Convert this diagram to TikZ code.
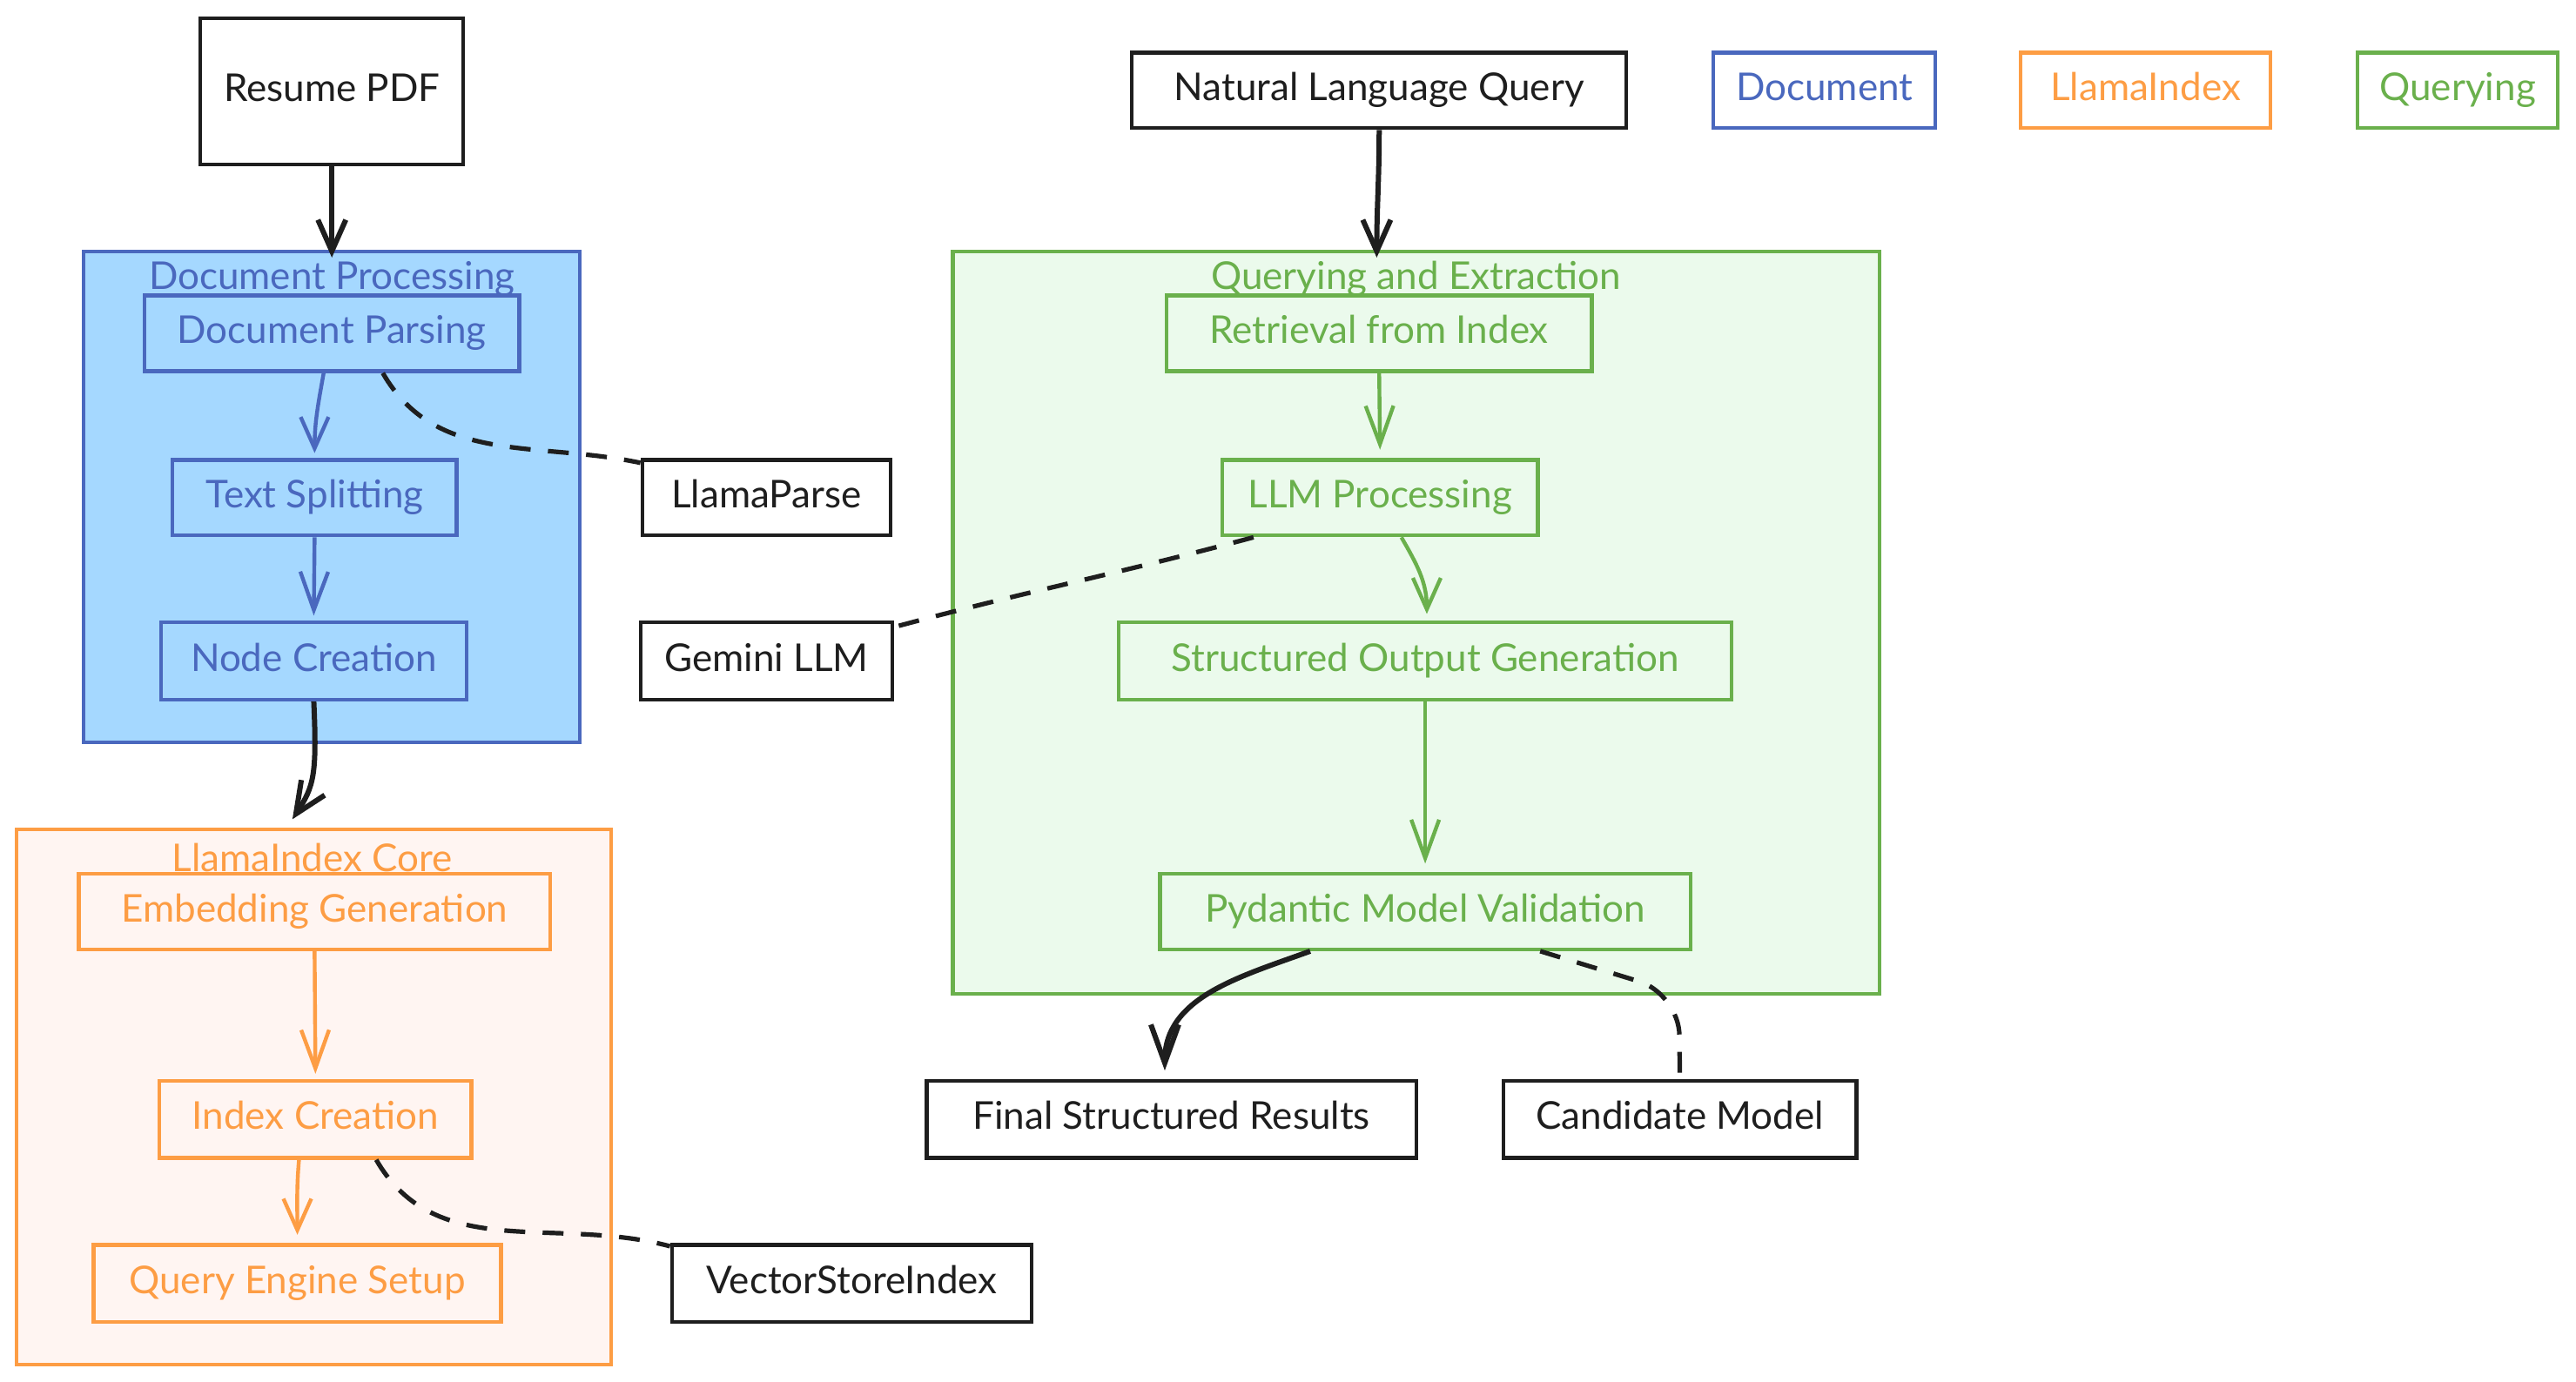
\documentclass[tikz,border=0pt]{standalone}
\usepackage{fontspec}
\setmainfont{Lato}
\usetikzlibrary{arrows.meta,fit,calc}
\definecolor{docb}{RGB}{74,104,190}
\definecolor{docf}{RGB}{165,216,255}
\definecolor{llo}{RGB}{253,157,68}
\definecolor{llf}{RGB}{255,245,242}
\definecolor{qg}{RGB}{106,176,76}
\definecolor{qf}{RGB}{235,250,236}
\definecolor{ink}{RGB}{30,30,30}
\begin{document}
\begin{tikzpicture}[x=0.4718pt,y=-0.4718pt,
  font=\fontsize{11}{13}\selectfont,
  box/.style={draw, line width=1.1pt, inner sep=0pt},
  lbl/.style={inner sep=0pt, text height=1.6ex, text depth=0.45ex},
  blackbox/.style={box, draw=ink, fill=white, label={[lbl, text=ink]center:#1}},
  docbox/.style={box, draw=docb, label={[lbl, text=docb]center:#1}},
  llbox/.style={box, draw=llo, label={[lbl, text=llo]center:#1}},
  qbox/.style={box, draw=qg, label={[lbl, text=qg]center:#1}},
  docgroup/.style={box, draw=docb, fill=docf},
  llgroup/.style={box, draw=llo, fill=llf},
  qgroup/.style={box, draw=qg, fill=qf},
  gtitle/.style={inner sep=0pt},
  flow/.style={line width=1.1pt, -{Straight Barb[length=9pt,width=8pt]}},
  blackflow/.style={flow, draw=ink, line width=1.5pt},
  link/.style={draw=ink, line width=1.3pt, dash pattern=on 6pt off 5pt}
]
\useasboundingbox (0,0) rectangle (1568,841);

% groups
\node[docgroup, fit={(51,153)(353,452)}] (docproc) {};
\node[llgroup, fit={(10,505)(372,831)}] (core) {};
\node[qgroup, fit={(580,153)(1144,605)}] (qx) {};
\node[gtitle, text=docb] (tdoc) at (202,170) {Document Processing};
\node[gtitle, text=llo] (tcore) at (190,522) {LlamaIndex Core};
\node[gtitle, text=qg] (tqx) at (862,170) {Querying and Extraction};

% document nodes
\node[blackbox=Resume PDF, fit={(122,11)(282,100)}] (resume) {};
\node[docbox=Document Parsing, fit={(88,180)(316,226)}] (parse) {};
\node[docbox=Text Splitting, fit={(105,280)(278,326)}] (split) {};
\node[docbox=Node Creation, fit={(98,379)(284,426)}] (nodec) {};
\node[blackbox=LlamaParse, fit={(391,280)(542,326)}] (lparse) {};
\node[blackbox=Gemini LLM, fit={(390,379)(543,426)}] (gemini) {};

% llamaindex nodes
\node[llbox=Embedding Generation, fit={(48,532)(335,578)}] (embed) {};
\node[llbox=Index Creation, fit={(97,658)(287,705)}] (idx) {};
\node[llbox=Query Engine Setup, fit={(57,758)(305,805)}] (qes) {};
\node[blackbox=VectorStoreIndex, fit={(409,758)(628,805)}] (vsi) {};

% querying nodes
\node[blackbox=Natural Language Query, fit={(689,32)(990,78)}] (nlq) {};
\node[qbox=Retrieval from Index, fit={(710,180)(969,226)}] (retr) {};
\node[qbox=LLM Processing, fit={(744,280)(936,326)}] (llmp) {};
\node[qbox=Structured Output Generation, fit={(681,379)(1054,426)}] (sog) {};
\node[qbox=Pydantic Model Validation, fit={(706,532)(1029,578)}] (pmv) {};
\node[blackbox=Final Structured Results, fit={(564,658)(862,705)}] (fsr) {};
\node[blackbox=Candidate Model, fit={(915,658)(1130,705)}] (cm) {};

% legend
\node[docbox=Document, fill=white, fit={(1043,32)(1178,78)}] (legdoc) {};
\node[llbox=LlamaIndex, fill=white, fit={(1230,32)(1382,78)}] (legll) {};
\node[qbox=Querying, fill=white, fit={(1435,32)(1557,78)}] (legq) {};

% connectors
\draw[blackflow] (resume.south) -- ($(docproc.north)+(0,5)$);
\draw[flow, draw=docb] ($(parse.south)+(-5,0)$) to[out=-100,in=90] ($(split.north)+(0,-3)$);
\draw[flow, draw=docb, -{Straight Barb[length=11pt,width=8pt]}] (split.south) -- ($(nodec.north)+(0,-3)$);
\draw[link] ($(parse.south)+(31,0)$) to[out=-60,in=168] ($(lparse.north west)+(0,3)$);
\draw[blackflow] (nodec.south) .. controls ($(nodec.south)+(2,45)$) and ($(core.north)+(0,-25)$) .. ($(core.north)+(-13,-5)$);
\draw[flow, draw=llo, -{Straight Barb[length=11pt,width=8pt]}] (embed.south) -- ($(idx.north)+(0,-3)$);
\draw[flow, draw=llo] ($(idx.south)+(-10,0)$) to[out=-95,in=90] ($(qes.north)+(0,-5)$);
\draw[link] ($(idx.south)+(37,0)$) to[out=-60,in=165] ($(vsi.north west)+(0,2)$);

\draw[blackflow] (nlq.south) to[out=-90,in=90] ($(qx.north)+(-24,5)$);
\draw[flow, draw=qg, -{Straight Barb[length=11pt,width=8pt]}] (retr.south) -- ($(llmp.north)+(0,-5)$);
\draw[flow, draw=qg] ($(llmp.south)+(13,0)$) to[out=-60,in=90] ($(sog.north)+(1,-4)$);
\draw[link] ($(llmp.south)+(-77,0)$) to[out=195,in=15] ($(gemini.north east)+(0,4)$);
\draw[flow, draw=qg, -{Straight Barb[length=11pt,width=8pt]}] (sog.south) -- ($(pmv.north)+(0,-5)$);
\draw[blackflow, -{Straight Barb[length=11pt,width=8pt]}] ($(pmv.south)+(-70,0)$) to[out=-160,in=90] ($(fsr.north)+(-4,-5)$);
\coordinate (bend) at (1022,605);
\draw[link, rounded corners=12pt] ($(pmv.south)+(70,0)$) -- (bend) -- (cm.north);
\end{tikzpicture}
\end{document}
